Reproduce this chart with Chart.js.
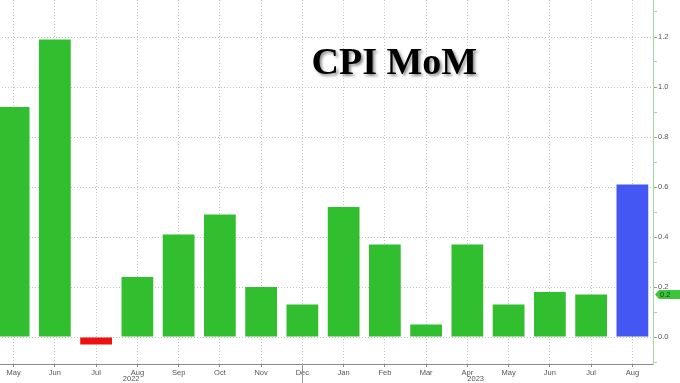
<!DOCTYPE html>
<html>
<head>
<meta charset="utf-8">
<script src="https://cdn.jsdelivr.net/npm/chart.js@4"></script>
<style>
  html, body { margin: 0; padding: 0; background: #fff; overflow: hidden; }
  #wrap { position: absolute; left: -7px; top: 0; width: 687px; height: 383px; }
</style>
</head>
<body>
<div id="wrap"><canvas id="c" width="687" height="383"></canvas></div>
<script>
const categories = ['May','Jun','Jul','Aug','Sep','Oct','Nov','Dec','Jan','Feb','Mar','Apr','May','Jun','Jul','Aug'];
const cpiMoM = [0.92, 1.19, -0.03, 0.24, 0.41, 0.49, 0.20, 0.13, 0.52, 0.37, 0.05, 0.37, 0.13, 0.18, 0.17, 0.61];
const yearLabels = ['2022', '2023'];
const yearLabelIndex = [2.85, 11.2];
const yearSeparatorIndex = [7];
const titleText = 'CPI MoM';
const tagValueIndex = 14;
const tagText = '0.2';

const GREEN = '#31bf2f', RED = '#ee1111', BLUE = '#4557f2';
const barColors = cpiMoM.map((v, i) => i === cpiMoM.length - 1 ? BLUE : (v < 0 ? RED : GREEN));
const isMajor = v => { const k = Math.round(v * 10); return k >= 0 && k <= 12 && k % 2 === 0; };
const FONT = 'Liberation Sans';

const extras = {
  id: 'extras',
  afterDraw(chart) {
    const ctx = chart.ctx, x = chart.scales.x, y = chart.scales.y, ca = chart.chartArea;
    ctx.save();
    ctx.strokeStyle = '#999'; ctx.lineWidth = 1;
    yearSeparatorIndex.forEach(i => {
      const px = Math.round(x.getPixelForValue(i)) + 0.5;
      ctx.beginPath(); ctx.moveTo(px, ca.bottom); ctx.lineTo(px, chart.height); ctx.stroke();
    });
    ctx.fillStyle = '#555'; ctx.font = '7.5px "' + FONT + '"';
    ctx.textAlign = 'center'; ctx.textBaseline = 'middle';
    yearLabels.forEach((t, i) => ctx.fillText(t, x.getPixelForValue(yearLabelIndex[i]), 379));
    ctx.font = 'bold 38px "Liberation Serif"';
    ctx.textAlign = 'center'; ctx.textBaseline = 'alphabetic';
    ctx.shadowColor = 'rgba(0,0,0,0.45)'; ctx.shadowBlur = 3; ctx.shadowOffsetX = 2; ctx.shadowOffsetY = 2;
    ctx.fillStyle = '#000';
    ctx.fillText(titleText, x.getPixelForValue(9.23), 74);
    ctx.shadowColor = 'transparent';
    const ty = y.getPixelForValue(cpiMoM[tagValueIndex]);
    const tx = ca.right + 2;
    ctx.fillStyle = '#3cc43a';
    ctx.beginPath();
    ctx.moveTo(tx, ty);
    ctx.lineTo(tx + 4, ty - 4.5);
    ctx.lineTo(chart.width, ty - 4.5);
    ctx.lineTo(chart.width, ty + 4.5);
    ctx.lineTo(tx + 4, ty + 4.5);
    ctx.closePath(); ctx.fill();
    ctx.fillStyle = '#0b3d0b'; ctx.font = '7.5px "' + FONT + '"';
    ctx.textAlign = 'left'; ctx.textBaseline = 'middle';
    ctx.fillText(tagText, tx + 5, ty + 0.5);
    ctx.restore();
  }
};

new Chart(document.getElementById('c'), {
  type: 'bar',
  data: {
    labels: categories,
    datasets: [{
      data: cpiMoM,
      backgroundColor: barColors,
      borderWidth: 0,
      barPercentage: 0.77,
      categoryPercentage: 1.0
    }]
  },
  options: {
    responsive: false,
    devicePixelRatio: 1,
    animation: false,
    layout: { padding: 0 },
    plugins: { legend: { display: false }, tooltip: { enabled: false }, title: { display: false } },
    scales: {
      x: {
        offset: true,
        grid: {
          offset: false,
          color: '#c4c4c4',
          lineWidth: 1,
          drawTicks: true,
          tickLength: 3,
          tickColor: '#888'
        },
        border: { display: true, color: '#8a8a8a', width: 1, dash: [1, 2] },
        ticks: {
          color: '#555',
          font: { family: FONT, size: 7.5 },
          padding: 1,
          maxRotation: 0,
          autoSkip: false
        },
        afterFit(s) { s.height = 19; s.paddingLeft = 0; s.paddingRight = 0; }
      },
      y: {
        position: 'right',
        min: -0.108,
        max: 1.348,
        grid: {
          color: c => isMajor(c.tick.value) ? '#c4c4c4' : 'rgba(0,0,0,0)',
          lineWidth: 1,
          drawTicks: true,
          tickLength: 4,
          tickColor: c => isMajor(c.tick.value) ? '#6fbf6f' : '#a9d9a9'
        },
        border: { display: true, color: '#a6d8a6', width: 1, dash: [1, 2] },
        ticks: {
          stepSize: 0.1,
          includeBounds: false,
          color: '#555',
          font: { family: FONT, size: 7.5 },
          padding: 1,
          callback: v => isMajor(v) ? (Math.round(v * 10) / 10).toFixed(1) : ''
        },
        afterFit(s) { s.width = 27; s.paddingTop = 0; s.paddingBottom = 0; }
      }
    }
  },
  plugins: [extras]
});
</script>
</body>
</html>
